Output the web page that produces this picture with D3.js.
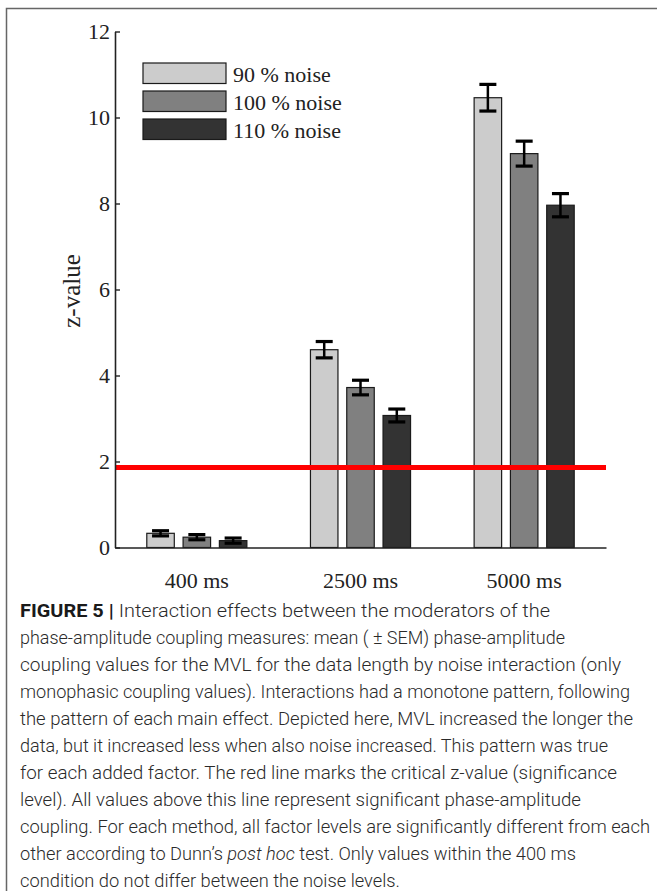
<!DOCTYPE html>
<html>
<head>
<meta charset="utf-8">
<script src="https://cdn.jsdelivr.net/npm/d3@7"></script>
<style>
  html, body { margin: 0; padding: 0; background: #fff; }
  svg { display: block; }
</style>
</head>
<body>
<svg id="chart" width="657" height="891"></svg>
<script>
// chart data
const categories = ["400 ms", "2500 ms", "5000 ms"];
const seriesNames = ["90 % noise", "100 % noise", "110 % noise"];
const means90 = [0.33, 4.60, 10.46];
const means100 = [0.24, 3.72, 9.16];
const means110 = [0.16, 3.07, 7.96];
const sem90 = [0.06, 0.19, 0.31];
const sem100 = [0.06, 0.17, 0.29];
const sem110 = [0.06, 0.15, 0.27];
const criticalZ = 1.86;
const yTicks = [0, 2, 4, 6, 8, 10, 12];

const captionLines = [
  "Interaction effects between the moderators of the",
  "phase-amplitude coupling measures: mean ( \u00b1 SEM) phase-amplitude",
  "coupling values for the MVL for the data length by noise interaction (only",
  "monophasic coupling values). Interactions had a monotone pattern, following",
  "the pattern of each main effect. Depicted here, MVL increased the longer the",
  "data, but it increased less when also noise increased. This pattern was true",
  "for each added factor. The red line marks the critical z-value (significance",
  "level). All values above this line represent significant phase-amplitude",
  "coupling. For each method, all factor levels are significantly different from each",
  "other according to Dunn\u2019s ",
  "condition do not differ between the noise levels."
];

const colors = ["#cccccc", "#808080", "#333333"];
const serif = "'Liberation Serif', 'Times New Roman', serif";

let means = [means90, means100, means110];
let sems = [sem90, sem100, sem110];

let rows = [];
categories.forEach(function (c, i) {
  seriesNames.forEach(function (s, j) {
    rows.push({ cat: c, series: s, idx: j, mean: means[j][i], sem: sems[j][i] });
  });
});

let svg = d3.select("#chart");

// frame
svg.append("path")
  .attr("d", "M6.5,891 V8.5 H657")
  .attr("fill", "none")
  .attr("stroke", "#666")
  .attr("stroke-width", 1.5);

let x0 = d3.scaleBand().domain(categories).range([115, 606]).paddingInner(0).paddingOuter(0);
let x1 = d3.scaleBand().domain(seriesNames).range([0, x0.bandwidth()])
  .paddingInner(0.2424).paddingOuter(0.876);
let y = d3.scaleLinear().domain([0, 12]).range([547.5, 31.5]);

// bars
let g = svg.append("g");
g.selectAll(".bar")
  .data(rows)
  .enter().append("rect")
  .attr("class", "bar")
  .attr("x", function (d) { return x0(d.cat) + x1(d.series); })
  .attr("y", function (d) { return y(d.mean); })
  .attr("width", x1.bandwidth())
  .attr("height", function (d) { return y(0) - y(d.mean); })
  .attr("fill", function (d) { return colors[d.idx]; })
  .attr("stroke", "#1a1a1a")
  .attr("stroke-width", 1.2);

// error bars
let eb = g.selectAll(".err")
  .data(rows)
  .enter().append("g")
  .attr("class", "err")
  .attr("transform", function (d) {
    return "translate(" + (x0(d.cat) + x1(d.series) + x1.bandwidth() / 2) + ",0)";
  });
eb.append("line")
  .attr("y1", function (d) { return y(d.mean - d.sem); })
  .attr("y2", function (d) { return y(d.mean + d.sem); })
  .attr("stroke", "#000").attr("stroke-width", 2.5);
eb.selectAll(".cap")
  .data(function (d) { return [d.mean - d.sem, d.mean + d.sem]; })
  .enter().append("line")
  .attr("x1", -8.5).attr("x2", 8.5)
  .attr("y1", function (v) { return y(v); })
  .attr("y2", function (v) { return y(v); })
  .attr("stroke", "#000").attr("stroke-width", 3.2);

// critical z line
g.append("line")
  .attr("x1", 115).attr("x2", 606)
  .attr("y1", y(criticalZ)).attr("y2", y(criticalZ))
  .attr("stroke", "#ff0000")
  .attr("stroke-width", 5);

// axes
let yAxis = svg.append("g")
  .attr("transform", "translate(115,0)")
  .call(d3.axisLeft(y).tickValues(yTicks).tickSizeInner(-5).tickSizeOuter(0).tickPadding(5));
let xAxis = svg.append("g")
  .attr("transform", "translate(0," + y(0) + ")")
  .call(d3.axisBottom(x0).tickSize(0).tickPadding(25));

[yAxis, xAxis].forEach(function (a) {
  a.select(".domain").attr("stroke", "#222").attr("stroke-width", 1.6);
  a.selectAll(".tick line").attr("stroke", "#222").attr("stroke-width", 1.4);
  a.selectAll("text")
    .attr("font-family", serif)
    .attr("font-size", "22px")
    .attr("fill", "#222");
});

svg.append("text")
  .attr("transform", "translate(80,291) rotate(-90)")
  .attr("text-anchor", "middle")
  .attr("font-family", serif)
  .attr("font-size", "25px")
  .attr("fill", "#222")
  .text("z-value");

// legend
let legend = svg.append("g").attr("transform", "translate(143,63)");
let li = legend.selectAll(".li")
  .data(seriesNames)
  .enter().append("g")
  .attr("class", "li")
  .attr("transform", function (d, i) { return "translate(0," + (i * 28) + ")"; });
li.append("rect")
  .attr("width", 83).attr("height", 20.5)
  .attr("fill", function (d, i) { return colors[i]; })
  .attr("stroke", "#1a1a1a").attr("stroke-width", 1.2);
li.append("text")
  .attr("x", 90).attr("y", 18.5)
  .attr("font-family", serif)
  .attr("font-size", "22px")
  .attr("fill", "#222")
  .text(function (d) { return d; });

// caption
let lineEnds = [550, 565, 621, 630, 633, 608, 617, 581, 650, 576, 400];
let cap = svg.append("g")
  .attr("font-family", "Roboto, 'Liberation Sans', sans-serif")
  .attr("font-size", "17.5px")
  .attr("font-weight", 300)
  .attr("fill", "#2a2a2a");
captionLines.forEach(function (t, i) {
  let txt = cap.append("text")
    .attr("x", 20)
    .attr("y", 617 + i * 27)
    .attr("textLength", lineEnds[i] - 20)
    .attr("lengthAdjust", "spacingAndGlyphs");
  if (i === 0) {
    txt.append("tspan").attr("font-weight", "bold").attr("fill", "#1a1a1a").text("FIGURE 5 | ");
  }
  txt.append("tspan").text(t);
  if (i === 9) {
    txt.append("tspan").attr("font-style", "italic").text("post hoc");
    txt.append("tspan").text(" test. Only values within the 400 ms");
  }
});
</script>
</body>
</html>
